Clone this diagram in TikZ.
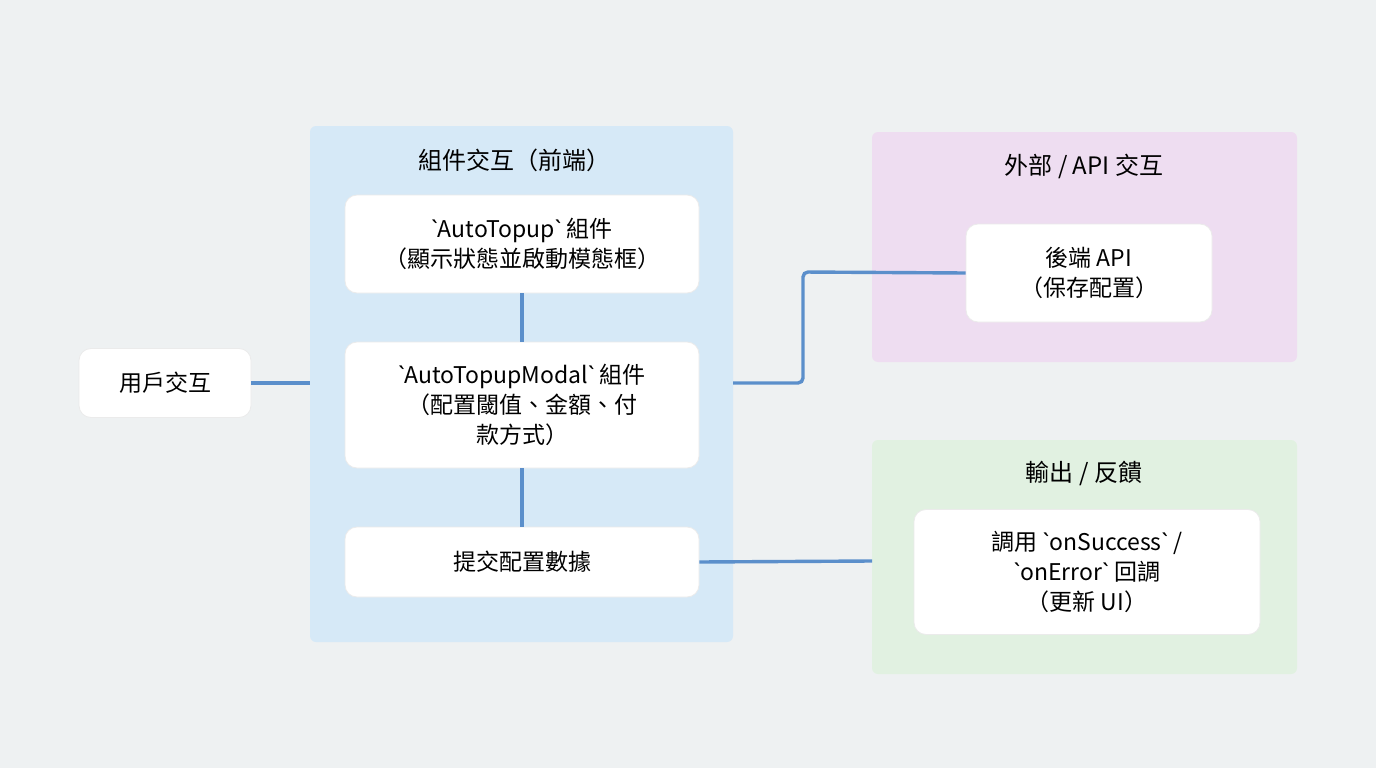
\documentclass[tikz,border=0pt]{standalone}
\usepackage{fontspec}
\setmainfont{Noto Sans CJK TC}
\newfontfamily\latf[Ligatures=NoCommon]{Noto Sans}
\newcommand{\bq}{{\latf\symbol{96}}}
\begin{document}
\begin{tikzpicture}[x=1pt,y=-1pt,
  panel/.style={draw=none,rounded corners=6pt},
  box/.style={fill=white,rounded corners=12pt,draw=black!8,line width=0.8pt,align=center,font=\fontsize{23}{30}\selectfont,inner sep=0pt},
  ttl/.style={font=\fontsize{24}{28}\selectfont},
  conn/.style={draw={rgb,255:red,91;green,143;blue,203},line width=3.4pt,rounded corners=5pt}]
\definecolor{bg}{RGB}{238,241,242}
\definecolor{pblue}{RGB}{214,233,247}
\definecolor{ppink}{RGB}{238,221,241}
\definecolor{pgreen}{RGB}{225,241,225}
\useasboundingbox (0,0) rectangle (1376,768);
\fill[bg] (0,0) rectangle (1376,768);
\fill[panel,pblue] (310,126) rectangle (733,642);
\fill[panel,ppink] (872,132) rectangle (1297,362);
\fill[panel,pgreen] (872,440) rectangle (1297,674);
\coordinate (pl) at (310,383);
\coordinate (pr) at (733,383);
\coordinate (gl) at (872,561);
\node[ttl] (t1) at (514,160) {組件交互（前端）};
\node[ttl] (t2) at (1084,166) {外部 / API 交互};
\node[ttl] (t3) at (1084,473) {輸出 / 反饋};
\node[box,minimum width=354pt,minimum height=98pt] (b1) at (522,244) {\bq AutoTopup\bq{} 組件\\（顯示狀態並啟動模態框）};
\node[box,minimum width=354pt,minimum height=126pt] (b2) at (522,405) {\bq AutoTopupModal\bq{} 組件\\（配置閾值、金額、付\\款方式）};
\node[box,minimum width=354pt,minimum height=70pt] (b3) at (522,562) {提交配置數據};
\node[box,minimum width=172pt,minimum height=69pt] (u) at (165,383) {用戶交互};
\node[box,minimum width=246pt,minimum height=98pt] (api) at (1089,273) {後端 API\\（保存配置）};
\node[box,minimum width=346pt,minimum height=125pt] (out) at (1087,572) {調用 \bq onSuccess\bq{} /\\\bq onError\bq{} 回調\\（更新 UI）};
\draw[conn] (u.east) -- (pl);
\draw[conn] (b1.south) -- (b2.north);
\draw[conn] (b2.south) -- (b3.north);
\draw[conn] (pr) -- (803,383) -- (803,272) -- (api.west);
\draw[conn] (b3.east) -- (gl);
\end{tikzpicture}
\end{document}
